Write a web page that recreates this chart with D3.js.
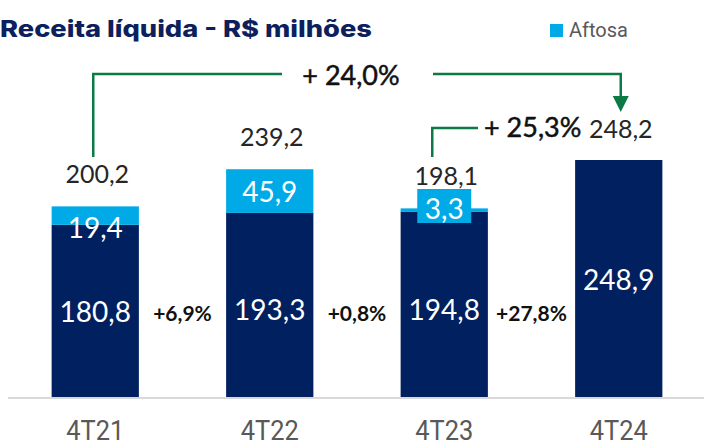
<!DOCTYPE html>
<html>
<head>
<meta charset="utf-8">
<script src="https://cdn.jsdelivr.net/npm/d3@7"></script>
<style>
  body { margin: 0; background: #fff; }
  svg { display: block; }
</style>
</head>
<body>
<script>
const [width, height] = [704, 448];

// data
const categories = ['4T21', '4T22', '4T23', '4T24'];
const baseValues = [180.8, 193.3, 194.8, 248.9];
const aftosaValues = [19.4, 45.9, 3.3, 0];
const totals = [200.2, 239.2, 198.1, 248.2];
const growth = [6.9, 0.8, 27.8];
const compares = [
  {from: 0, to: 3, value: 24.0},
  {from: 2, to: 3, value: 25.3}
];

const navy = '#012060';
const cyan = '#00aae6';
const green = '#0b7a45';

const fmt = v => d3.format('.1f')(v).replace('.', ',');

const svg = d3.select('body').append('svg')
  .attr('width', width)
  .attr('height', height);

const x = d3.scaleBand()
  .domain(categories)
  .range([8, 706])
  .paddingInner(0.5)
  .paddingOuter(0.25);

const y = d3.scaleLinear()
  .domain([0, 248.9])
  .range([397, 160]);

const cx = i => x(categories[i]) + x.bandwidth() / 2;

// title + legend
svg.append('text')
  .attr('x', 0).attr('y', 37)
  .attr('font-family', 'Inter').attr('font-weight', 800)
  .attr('font-size', 23).attr('fill', '#0d1f5c')
  .attr('textLength', 372).attr('lengthAdjust', 'spacingAndGlyphs')
  .text('Receita líquida - R$ milhões');

svg.append('rect')
  .attr('x', 550).attr('y', 24).attr('width', 13).attr('height', 13)
  .attr('fill', cyan);
svg.append('text')
  .attr('x', 569).attr('y', 37)
  .attr('font-family', 'Roboto').attr('font-size', 20).attr('fill', '#595959')
  .text('Aftosa');

// axis
const axis = svg.append('g')
  .attr('transform', `translate(0, ${y(0) + 1})`)
  .call(d3.axisBottom(x).tickSize(0).tickPadding(22));
axis.select('.domain').attr('stroke', '#d9d9d9').attr('stroke-width', 2)
  .attr('d', `M8,0H704`);
axis.selectAll('text')
  .attr('font-family', 'Roboto').attr('font-size', 28).attr('fill', '#595959')
  .attr('textLength', 58).attr('lengthAdjust', 'spacingAndGlyphs');

// bars
const g = svg.append('g');
g.selectAll('rect.base').data(baseValues).enter().append('rect')
  .attr('class', 'base')
  .attr('x', (d, i) => x(categories[i]))
  .attr('width', x.bandwidth())
  .attr('y', d => y(d))
  .attr('height', d => y(0) - y(d))
  .attr('fill', navy);
g.selectAll('rect.aftosa').data(aftosaValues).enter().append('rect')
  .attr('class', 'aftosa')
  .attr('x', (d, i) => x(categories[i]))
  .attr('width', x.bandwidth())
  .attr('y', (d, i) => y(baseValues[i] + d))
  .attr('height', d => y(0) - y(d))
  .attr('fill', cyan);

// label box for the small aftosa piece
const small = 2;
g.append('rect')
  .attr('x', cx(small) - 27).attr('width', 54)
  .attr('y', 189).attr('height', 34)
  .attr('fill', cyan);

const font = 'Lato';

// inside labels
const baseLabelY = [322, 320, 320, 290];
g.selectAll('text.base').data(baseValues).enter().append('text')
  .attr('x', (d, i) => cx(i))
  .attr('y', (d, i) => baseLabelY[i])
  .attr('text-anchor', 'middle')
  .attr('font-family', font).attr('font-size', 28).attr('fill', '#fff')
  .text(d => fmt(d));

const aftosaLabelY = [238, 202, 219];
g.selectAll('text.aftosa').data(aftosaValues.filter(d => d > 0)).enter().append('text')
  .attr('x', (d, i) => cx(i))
  .attr('y', (d, i) => aftosaLabelY[i])
  .attr('text-anchor', 'middle')
  .attr('font-family', font).attr('font-size', 28).attr('fill', '#fff')
  .text(d => fmt(d));

// totals
g.selectAll('text.total').data(totals).enter().append('text')
  .attr('x', (d, i) => cx(i) + 2)
  .attr('y', (d, i) => Math.min(y(d), i == small ? 189 + 23 : 999) - 23)
  .attr('text-anchor', 'middle')
  .attr('font-family', font).attr('font-size', 25).attr('fill', '#262626')
  .text(d => fmt(d));

// growth between bars
g.selectAll('text.growth').data(growth).enter().append('text')
  .attr('x', (d, i) => (x(categories[i]) + x.bandwidth() + x(categories[i + 1])) / 2)
  .attr('y', 321)
  .attr('text-anchor', 'middle')
  .attr('font-family', font).attr('font-weight', 'bold')
  .attr('font-size', 21).attr('fill', '#111')
  .text(d => '+' + fmt(d) + '%');

// comparison connectors
const c0 = compares[0];
const x0 = cx(c0.from) - 2, x1 = cx(c0.to) + 2;
const ly = 74;
g.append('path')
  .attr('d', `M${x0},157V${ly}H282`)
  .attr('fill', 'none').attr('stroke', green).attr('stroke-width', 2.5);
g.append('path')
  .attr('d', `M433,${ly}H${x1}V100`)
  .attr('fill', 'none').attr('stroke', green).attr('stroke-width', 2.5);
g.append('path')
  .attr('d', `M${x1 - 8},96H${x1 + 8}L${x1},112Z`)
  .attr('fill', green);
g.append('text')
  .attr('x', 351).attr('y', 85)
  .attr('text-anchor', 'middle')
  .attr('font-family', font).attr('font-size', 27).attr('fill', '#111')
  .attr('stroke', '#111').attr('stroke-width', 0.5)
  .text('+ ' + fmt(c0.value) + '%');

const c1 = compares[1];
const x2 = cx(c1.from) - 12;
g.append('path')
  .attr('d', `M${x2},157V128H478`)
  .attr('fill', 'none').attr('stroke', green).attr('stroke-width', 2.5);
g.append('text')
  .attr('x', 484).attr('y', 137)
  .attr('font-family', font).attr('font-size', 27).attr('fill', '#111')
  .attr('stroke', '#111').attr('stroke-width', 0.5)
  .text('+ ' + fmt(c1.value) + '%');
</script>
</body>
</html>
